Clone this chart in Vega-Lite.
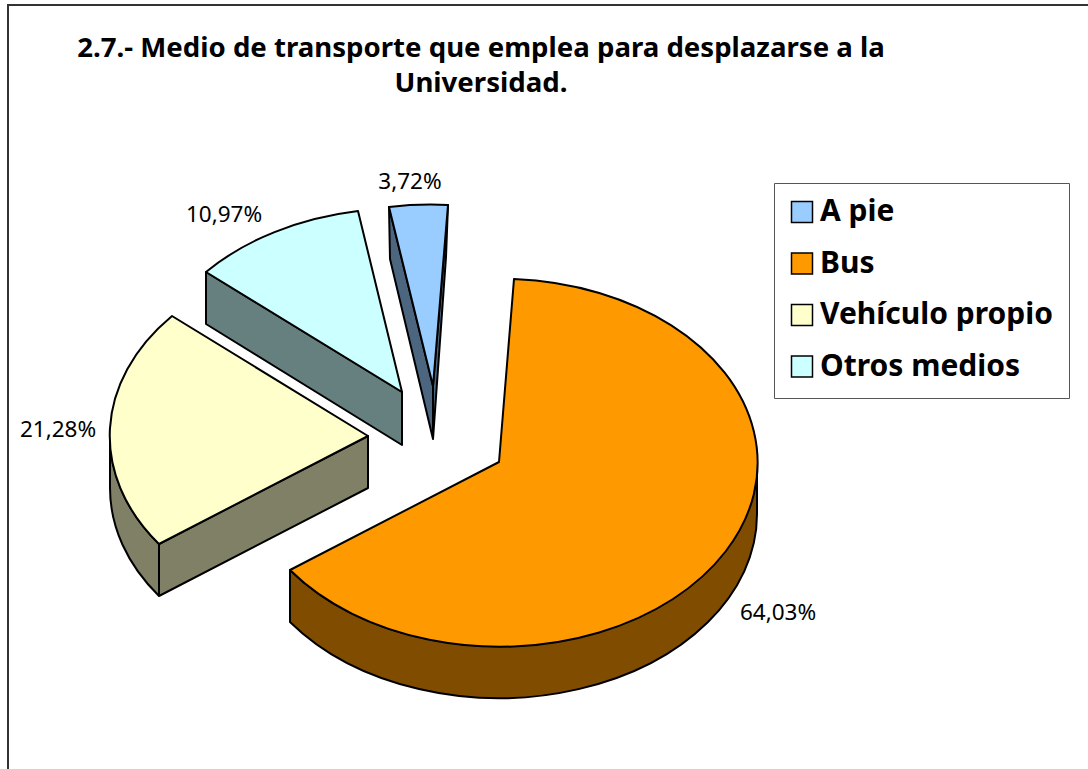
{
"$schema":"https://vega.github.io/schema/vega-lite/v6.json",
"width":1110,"height":800,
"autosize":{"type":"none"},
"padding":{"left":8,"top":5,"right":0,"bottom":0},
"background":"white",
"view":{"stroke":"#333333","strokeWidth":2,"fill":"white"},
"title":{"text":["2.7.- Medio de transporte que emplea para desplazarse a la","Universidad."],"anchor":"start","align":"center","frame":"group","baseline":"top","dx":473,"dy":93,"offset":0,"font":"Noto Sans","fontWeight":"bold","fontSize":27.6,"lineHeight":35,"color":"black"},
"data":{"values":[
{"slice":"A pie","pct":3.72,"label":"3,72%"},
{"slice":"Bus","pct":64.03,"label":"64,03%"},
{"slice":"Vehículo propio","pct":21.28,"label":"21,28%"},
{"slice":"Otros medios","pct":10.97,"label":"10,97%"}
]},
"encoding":{
"x":{"field":"slice","type":"nominal","axis":null,"scale":{"type":"point","padding":0,"range":[491,491]}},
"y":{"field":"slice","type":"nominal","axis":null,"scale":{"type":"point","padding":0,"range":[457,457]}}
},
"layer":[
{"mark":{"type":"square","filled":true,"opacity":1,"stroke":"black","strokeWidth":2},
"encoding":{"size":{"value":0},
"color":{"field":"slice","type":"nominal","title":null,"scale":{"domain":["A pie","Bus","Vehículo propio","Otros medios"],"range":["#99CCFF","#FF9900","#FFFFCC","#CCFFFF"]},
"legend":{"orient":"none","legendX":766,"legendY":178,"title":null,"labelFont":"Noto Sans","labelFontWeight":"bold","labelFontSize":30,"labelColor":"black","labelLimit":400,"labelOffset":3,"rowPadding":21.5,"padding":16,"strokeColor":"#555555","fillColor":"white","clipHeight":26,"symbolType":"square","symbolSize":441,"symbolOffset":-3,
"encode":{"symbols":{"update":{"size":{"value":441},"stroke":{"value":"black"},"strokeWidth":{"value":2},"opacity":{"value":1}}}}}}}},
{"mark":{"type":"point","filled":true,"opacity":1,"stroke":"black","strokeWidth":2,"strokeJoin":"round"},
"encoding":{"size":{"value":4},
"color":{"field":"slice","type":"nominal","legend":null,"scale":{"domain":["A pie","Bus","Vehículo propio","Otros medios"],"range":["#4D6680","#804D00","#808066","#668080"]}},
"shape":{"field":"slice","type":"nominal","legend":null,"scale":{"domain":["A pie","Bus","Vehículo propio","Otros medios"],"range":[
"M-110,-255 L-109,-203 L-66,-23 L-66,-76 Z M-51,-257 L-53,-205 L-66,-23 L-66,-76 Z",
"M258,0 A258,184 0 0 1 -209,108 L-209,160 A258,184 0 0 0 258,52 Z",
"M-389,-26 A258,184 0 0 0 -340,82 L-340,134 A258,184 0 0 1 -389,26 Z M-340,82 L-131,-26 L-131,26 L-340,134 Z",
"M-293,-190 L-97,-70 L-97,-17 L-293,-138 Z"]}}}},
{"mark":{"type":"point","filled":true,"opacity":1,"stroke":"black","strokeWidth":2,"strokeJoin":"round"},
"encoding":{"size":{"value":4},
"color":{"field":"slice","type":"nominal","legend":null,"scale":{"domain":["A pie","Bus","Vehículo propio","Otros medios"],"range":["#99CCFF","#FF9900","#FFFFCC","#CCFFFF"]}},
"shape":{"field":"slice","type":"nominal","legend":null,"scale":{"domain":["A pie","Bus","Vehículo propio","Otros medios"],"range":[
"M-66,-76 L-110,-255 A258,184 0 0 1 -51,-257 Z",
"M0,0 L15,-183 A258,184 0 1 1 -209,108 Z",
"M-131,-26 L-340,82 A258,184 0 0 1 -327,-146 Z",
"M-97,-70 L-293,-190 A258,184 0 0 1 -141,-251 Z"]}}}},
{"transform":[{"filter":"datum.slice==='A pie'"}],"mark":{"type":"text","font":"Noto Sans","fontSize":22.5,"color":"black","dx":-89,"dy":-280},"encoding":{"text":{"field":"label"}}},
{"transform":[{"filter":"datum.slice==='Bus'"}],"mark":{"type":"text","font":"Noto Sans","fontSize":22.5,"color":"black","dx":279,"dy":151},"encoding":{"text":{"field":"label"}}},
{"transform":[{"filter":"datum.slice==='Vehículo propio'"}],"mark":{"type":"text","font":"Noto Sans","fontSize":22.5,"color":"black","dx":-441,"dy":-32},"encoding":{"text":{"field":"label"}}},
{"transform":[{"filter":"datum.slice==='Otros medios'"}],"mark":{"type":"text","font":"Noto Sans","fontSize":22.5,"color":"black","dx":-275,"dy":-247},"encoding":{"text":{"field":"label"}}}
],
"resolve":{"scale":{"color":"independent","shape":"independent"}}
}
